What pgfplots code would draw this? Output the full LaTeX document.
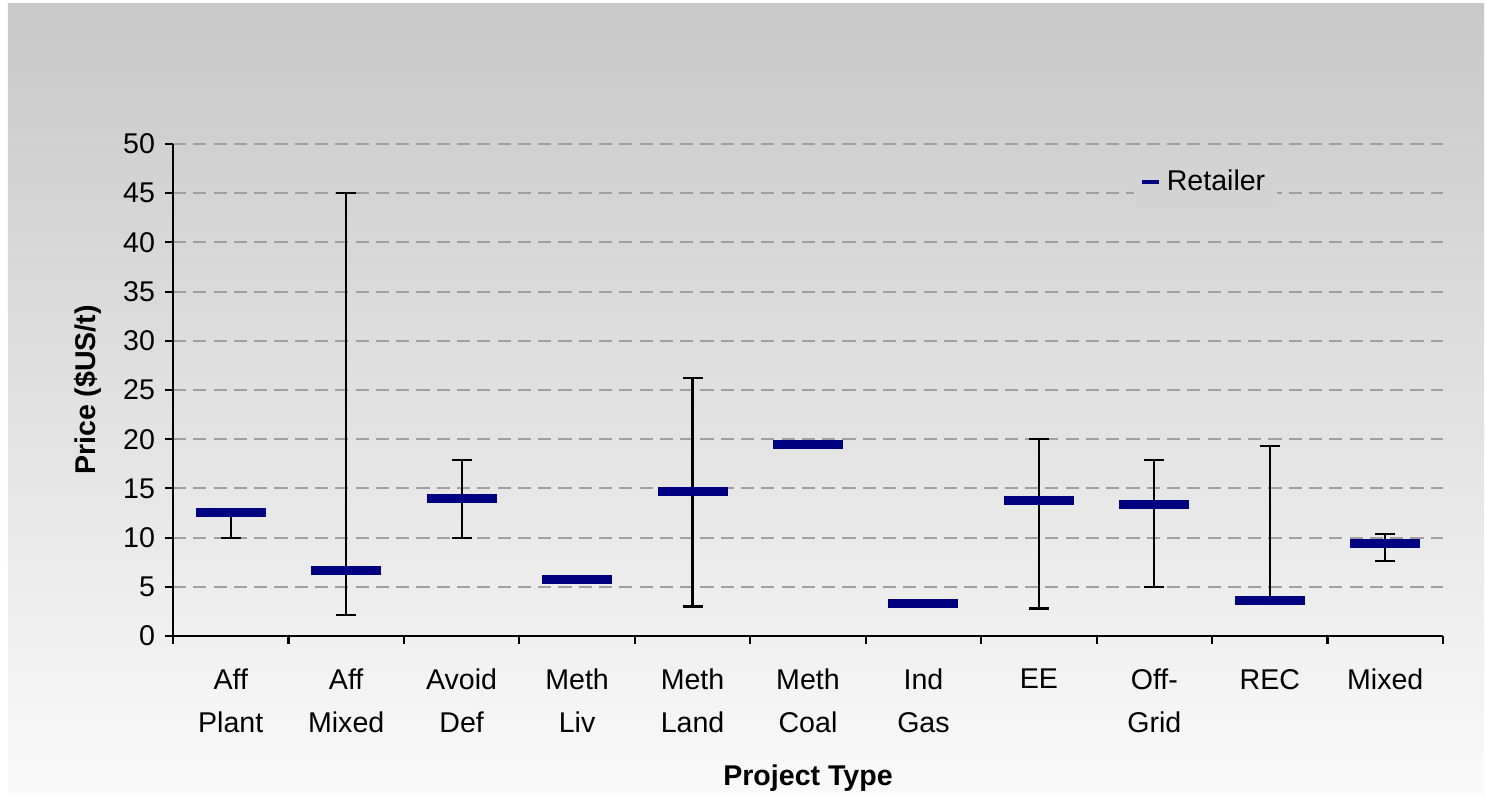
\documentclass[border=0pt]{standalone}
\usepackage{fontspec}
\setmainfont{Liberation Sans}
\usepackage{pgfplots}
\pgfplotsset{compat=1.18}
\usetikzlibrary{backgrounds,calc}

\definecolor{retailer}{RGB}{0,0,128}
\definecolor{gridgray}{RGB}{160,160,160}
\definecolor{bgtop}{RGB}{200,200,200}
\definecolor{bgbot}{RGB}{250,250,250}
\definecolor{legbg}{RGB}{211,211,211}

% price per category: x, retailer price, error up, error down
\pgfplotstableread{
x  y     ep    em
0  12.6  0.0   2.6
1  6.7   38.3  4.6
2  14.0  3.9   4.0
3  5.7   0.0   0.0
4  14.7  11.5  11.7
5  19.5  0.0   0.0
6  3.3   0.0   0.0
7  13.8  6.2   11.0
8  13.4  4.5   8.4
9  3.6   15.7  0.0
10 9.4   1.0   1.8
}\retailerdata

\begin{document}
\begin{tikzpicture}
\begin{axis}[
    name=main,
    scale only axis,
    width=444.5pt, height=172.2pt,
    xmin=-0.5, xmax=10.5,
    ymin=0, ymax=50,
    axis x line=bottom, axis y line=left,
    axis line style={-, black, line width=1pt},
    tick align=outside,
    major tick length=2.8pt, minor tick length=2.8pt,
    tick style={black, line width=0.75pt},
    xtick={0,...,10},
    xticklabels={{Aff\\Plant},{Aff\\Mixed},{Avoid\\Def},{Meth\\Liv},{Meth\\Land},{Meth\\Coal},{Ind\\Gas},{EE},{Off-\\Grid},{REC},{Mixed}},
    minor xtick={-0.5,0.5,1.5,2.5,3.5,4.5,5.5,6.5,7.5,8.5,9.5,10.5},
    major x tick style={draw=none},
    xticklabel style={align=center, font=\fontsize{10}{15}\selectfont, yshift=-5.3pt},
    ytick={0,5,...,50},
    yticklabel style={font=\fontsize{10}{12}\selectfont},
    /pgf/number format/assume math mode=true,
    ymajorgrids,
    major grid style={gridgray, dash pattern=on 4.6pt off 2.5pt, line width=0.7pt},
    ylabel={\bfseries Price (\$US/t)},
    ylabel style={at={(axis description cs:-0.0669,0.5)}, anchor=center, font=\fontsize{10}{12}\selectfont},
    xlabel={\bfseries Project Type},
    xlabel style={at={(axis description cs:0.5,-0.2886)}, anchor=center, font=\fontsize{10}{12}\selectfont},
    legend style={draw=none, fill=legbg, at={(0.756,0.923)}, anchor=west,
        font=\fontsize{10}{12}\selectfont, inner sep=2pt},
    legend image code/.code={\draw[retailer, line width=1.6pt] (0pt,0pt) -- (6pt,0pt);},
]
\addplot[only marks, mark=-, mark size=12.25pt,
    mark options={retailer, line width=3.15pt},
    error bars/.cd, y dir=both, y explicit,
    error bar style={black, line width=0.75pt},
    error mark options={black, rotate=90, mark size=3.5pt, line width=0.75pt}]
    table[x=x, y=y, y error plus=ep, y error minus=em] {\retailerdata};
\legend{Retailer}
\end{axis}
\begin{scope}[on background layer]
\shade[top color=bgtop, bottom color=bgbot]
    ($(main.south west)+(-57.75pt,-55.65pt)$) rectangle ($(main.south west)+(458.85pt,221.2pt)$);
\end{scope}
\path[use as bounding box]
    ($(main.south west)+(-60.55pt,-55.65pt)$) rectangle ($(main.south west)+(459.55pt,222.6pt)$);
\end{tikzpicture}
\end{document}
